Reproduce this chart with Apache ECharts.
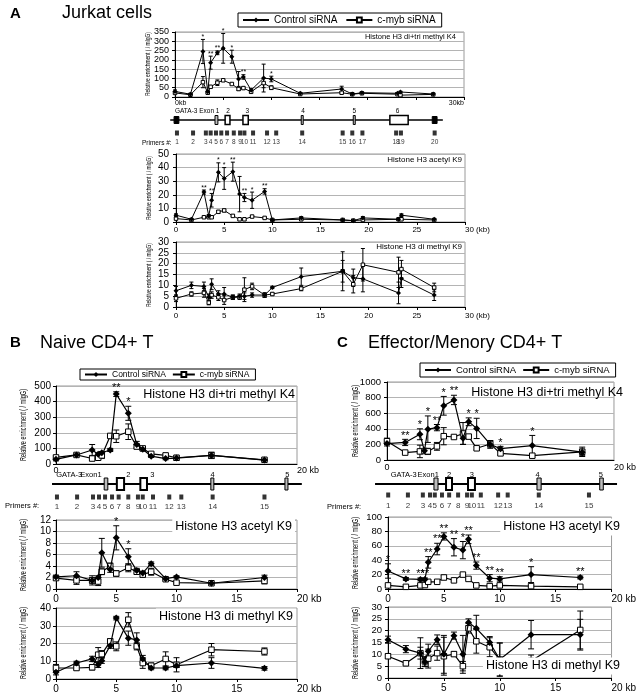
<!DOCTYPE html>
<html><head><meta charset="utf-8">
<script src="https://cdn.jsdelivr.net/npm/echarts@6/dist/echarts.min.js"></script>
<style>html,body{margin:0;padding:0;background:#fff}#c{width:639px;height:694px}</style>
</head><body><div id="c"></div>
<script>
// ---------- DATA ----------
// Panel A : Jurkat cells (kb positions of primers 1..20)
const kbA = [0, 1.6, 2.9, 3.4, 3.7, 4.4, 5.0, 5.9, 6.6, 7.1, 7.9, 9.2, 10.0, 13.0, 17.3, 18.4, 19.4, 23.1, 23.4, 26.8];
const aK4Ctrl = [30, 15, 245, 28, 185, 238, 262, 217, 97, 108, 37, 102, 97, 20, 43, 16, 23, 20, 27, 16];
const aK4CtrlErr = [8, 3, 65, 5, 35, 10, 80, 35, 40, 12, 8, 75, 15, 4, 15, 4, 4, 4, 4, 3];
const aK4Myb = [22, 12, 80, 23, 55, 77, 90, 70, 43, 48, 28, 75, 50, 16, 23, 15, 20, 15, 10, 14];
const aK4MybErr = [5, 3, 30, 5, 5, 15, 5, 5, 8, 5, 5, 25, 10, 3, 5, 3, 3, 5, 3, 3];
const aK4Stars = ['', '', '*', '', '**', '**', '*', '*', '', '**', '', '', '*', '', '', '', '', '', '', ''];
const aAcCtrl = [5, 2, 22, 4.5, 16, 36.5, 32, 37, 20.5, 18, 16, 22.5, 1.5, 3, 1.5, 1, 3, 2, 5, 2];
const aAcCtrlErr = [1, 0.5, 1.5, 1, 5, 7, 8, 7, 13, 3, 6, 2, 0.5, 1, 0.5, 0.5, 1, 0.5, 1, 0.5];
const aAcMyb = [2.5, 1.5, 3.5, 3.5, 3.5, 7.5, 8.5, 4.5, 2, 2, 4, 3, 1.5, 2, 1.5, 1, 1.5, 2, 2, 1.5];
const aAcMybErr = [0.5, 0.3, 0.5, 0.5, 0.5, 1, 1, 0.5, 0.5, 0.5, 0.5, 0.5, 0.3, 0.5, 0.3, 0.3, 0.3, 0.5, 0.3, 0.3];
const aAcStars = ['', '', '**', '', '**', '*', '*', '**', '', '**', '*', '**', '', '', '', '', '', '', '', ''];
const aDmCtrl = [7.5, 10, 9.5, 4.5, 10.5, 6, 6, 4.5, 5, 5, 5.5, 5.5, 9, 14, 16.5, 13.5, 13, 6.5, 13, 5.5];
const aDmCtrlErr = [2, 1.5, 2, 1.5, 2.5, 1.5, 3, 1, 1, 1.5, 1, 1, 0.5, 4, 9, 4, 6, 5, 4, 2.5];
const aDmMyb = [4, 6, 6.5, 2, 5.5, 4.5, 3.2, 4.5, 4.5, 8, 9.5, 5.5, 6, 8.5, 16.5, 10.5, 19.5, 16, 17.5, 9];
const aDmMybErr = [1.5, 1, 2, 1, 1.5, 1.5, 2, 1, 1, 5.5, 1.5, 1, 0.5, 1, 5, 4, 7.5, 7, 4, 2];
const primerKbA = [0.1, 1.77, 3.1, 3.6, 4.15, 4.7, 5.3, 6.0, 6.65, 7.1, 8.0, 9.45, 10.4, 13.1, 17.3, 18.3, 19.35, 22.85, 23.35, 26.85];
const primerNamesA = ['1','2','3','4','5','6','7','8','9','10','11','12','13','14','15','16','17','18','19','20'];
const exonStartA = [-0.2, 4.05, 5.1, 6.95, 13.0, 18.4, 22.2, 26.6];
const exonEndA = [0.3, 4.35, 5.6, 7.5, 13.2, 18.6, 24.1, 27.1];
const exonKindA = ['solid', 'thin', 'big', 'big', 'thin', 'thin', 'big', 'solid'];
const geneSpanA = [-0.6, 27.7];
const exonLabelKbA = [2.2, 5.4, 7.4, 13.2, 18.5, 23.0];
const exonLabelsA = ['GATA-3 Exon 1', '2', '3', '4', '5', '6'];

// Panel B : Naive CD4+ T
const kbB = [0, 1.7, 3.0, 3.5, 3.8, 4.5, 5.0, 6.0, 6.7, 7.2, 7.9, 9.1, 10.0, 12.9, 17.3];
const bK4Ctrl = [30, 58, 90, 62, 72, 90, 448, 325, 125, 95, 50, 35, 38, 55, 25];
const bK4CtrlErr = [10, 5, 35, 8, 8, 10, 15, 45, 20, 10, 8, 8, 10, 20, 5];
const bK4Myb = [42, 58, 35, 40, 55, 180, 178, 207, 112, 100, 65, 55, 40, 55, 27];
const bK4MybErr = [8, 5, 10, 10, 20, 10, 40, 50, 15, 10, 10, 10, 15, 20, 5];
const bK4Stars = ['', '', '', '', '', '', '**', '*', '', '', '', '', '', '', ''];
const bAcCtrl = [2.1, 2.3, 1.5, 2.0, 6.3, 3.4, 8.9, 5.6, 3.2, 2.8, 4.4, 1.8, 2.1, 1.0, 2.0];
const bAcCtrlErr = [0.3, 0.7, 0.5, 0.3, 2.5, 0.5, 2.1, 1.4, 0.4, 0.3, 0.3, 0.2, 0.2, 0.1, 0.4];
const bAcMyb = [1.9, 1.5, 1.5, 1.3, 3.0, 4.0, 2.7, 3.7, 3.0, 2.5, 3.0, 1.7, 1.1, 1.0, 1.4];
const bAcMybErr = [0.3, 0.7, 0.8, 0.7, 0.5, 0.5, 0.5, 0.7, 0.4, 0.4, 0.6, 0.2, 0.2, 0.1, 0.5];
const bAcStars = ['', '', '', '', '', '', '*', '*', '', '', '', '', '', '', ''];
const bDmCtrl = [3.8, 9, 11.3, 8, 10.3, 18.8, 34.3, 23, 22, 11.3, 6.2, 6.2, 7.5, 9, 6];
const bDmCtrlErr = [1.5, 1, 1.5, 1.5, 1.5, 1.5, 1, 4, 4, 2, 1, 1, 1, 3, 1];
const bDmMyb = [6.2, 6.2, 6.6, 13.7, 14, 21.2, 18.4, 33.4, 18.4, 9, 7.5, 11.3, 8, 16.5, 15.5];
const bDmMybErr = [2, 1, 1.5, 4, 2, 1.5, 2.5, 4, 2, 3, 1.5, 4, 4, 3.5, 2];
const primerKbB = [0.08, 1.75, 3.07, 3.57, 4.07, 4.65, 5.2, 6.0, 6.8, 7.2, 8.05, 9.4, 10.4, 13.0, 17.3];
const primerNamesB = ['1','2','3','4','5','6','7','8','9','10','11','12','13','14','15'];
const exonStartB = [4.0, 5.05, 7.0, 12.85, 19.0];
const exonEndB = [4.3, 5.65, 7.55, 13.1, 19.25];
const exonKindB = ['thin', 'big', 'big', 'thin', 'thin'];
const geneSpanB = [-0.33, 20.4];
const exonLabelKbB = [1.1, 2.9, 6.0, 8.0, 13.0, 19.2];
const exonLabelsB = ['GATA-3', 'Exon1', '2', '3', '4', '5'];

// Panel C : Effector/Menory CD4+ T
const kbC = [0, 1.6, 2.9, 3.3, 3.6, 4.4, 5.0, 5.9, 6.7, 7.2, 7.9, 9.1, 10.0, 12.8, 17.2];
const cK4Ctrl = [210, 225, 330, 120, 395, 415, 695, 770, 280, 490, 405, 200, 145, 185, 100];
const cK4CtrlErr = [30, 40, 70, 10, 170, 40, 120, 60, 80, 50, 130, 50, 30, 130, 40];
const cK4Myb = [240, 95, 110, 115, 110, 175, 305, 295, 340, 300, 150, 205, 85, 55, 105];
const cK4MybErr = [40, 10, 80, 20, 40, 50, 110, 20, 140, 20, 20, 40, 20, 20, 60];
const cK4Stars = ['', '**', '*', '', '*', '**', '*', '**', '', '*', '*', '', '*', '*', ''];
const cAcCtrl = [25, 14, 13.3, 13.3, 37, 55.5, 73, 58, 54, 69, 32.5, 15, 14, 20, 16];
const cAcCtrlErr = [10, 2, 2, 2, 8, 8, 5, 12, 12, 6, 5, 5, 3, 11, 2];
const cAcMyb = [5, 3, 5, 5.5, 10, 10, 16, 12, 20, 14, 5, 4, 5, 4, 3];
const cAcMybErr = [1, 1, 1, 1, 1, 1, 3, 1, 2, 1, 1, 1, 1, 1, 1];
const cAcStars = ['*', '**', '**', '**', '**', '**', '**', '**', '*', '**', '**', '**', '**', '*', '**'];
const cDmCtrl = [16.2, 12.2, 10.5, 6.8, 11.3, 16.2, 10, 17.9, 10, 23.5, 21, 15, 7.8, 18.3, 18.3];
const cDmCtrlErr = [1.5, 1.5, 2.5, 2, 3, 2, 8, 1.5, 8, 1.5, 5.5, 2.5, 7, 6, 6.5];
const cDmMyb = [9.2, 6.2, 10.5, 7, 8.2, 10.5, 9.2, 10.1, 5, 21, 15.5, 13, 7.8, 7.2, 20.3];
const cDmMybErr = [1, 0.5, 6.5, 2, 4, 3, 8, 1, 2, 2, 5, 4, 7, 2.5, 8];
const primerKbC = [0.1, 1.75, 3.0, 3.6, 4.0, 4.6, 5.2, 5.95, 6.7, 7.1, 7.85, 9.3, 10.1, 12.7, 16.9];
const primerNamesC = ['1','2','3','4','5','6','7','8','9','10','11','12','13','14','15'];
const exonStartC = [3.93, 4.94, 6.78, 12.55, 17.8];
const exonEndC = [4.27, 5.44, 7.36, 12.9, 18.1];
const exonKindC = ['thin', 'big', 'big', 'thin', 'thin'];
const geneSpanC = [-1.0, 19.25];
const exonLabelKbC = [1.4, 3.45, 5.2, 7.1, 12.6, 17.9];
const exonLabelsC = ['GATA-3', 'Exon1', '2', '3', '4', '5'];

const seriesNames = ['Control siRNA', 'c-myb siRNA'];
const yName = 'Relative enrichment ( / mIgG)';

// ---------- BUILD ----------
const FONT = 'Liberation Sans, Arial, sans-serif';
const chart = echarts.init(document.getElementById('c'), null, {renderer: 'canvas'});

const grids = [], xAxes = [], yAxes = [], series = [];

function plotPanel(box, xmax, ymax, yint, opt) {
  const gi = grids.length;
  grids.push({left: box[0], top: box[1], width: box[2], height: box[3], show: true, borderColor: '#9a9a9a', borderWidth: 1, backgroundColor: 'transparent'});
  xAxes.push({gridIndex: gi, type: 'value', min: 0, max: xmax, interval: 5,
    axisLine: {show: true, onZero: false, lineStyle: {color: '#000', width: 1}},
    axisTick: {show: opt.xTicks !== false, length: 3, lineStyle: {color: '#000'}},
    splitLine: {show: false},
    axisLabel: {show: true, fontSize: opt.xFont, fontFamily: FONT, color: '#000', margin: opt.xMargin,
      formatter: opt.xFmt, alignMinLabel: opt.alignMin || 'center', alignMaxLabel: opt.alignMax || 'left', showMinLabel: true, showMaxLabel: true}
  });
  yAxes.push({gridIndex: gi, type: 'value', min: 0, max: ymax, interval: yint,
    axisLine: {show: true, lineStyle: {color: '#000', width: 1}},
    axisTick: {show: true, length: 3, lineStyle: {color: '#000'}},
    splitLine: {show: true, lineStyle: {color: '#b4b4b4', width: 1}},
    axisLabel: {fontSize: opt.yFont, fontFamily: FONT, color: '#000', margin: opt.yMargin, formatter: v => String(v)}
  });
  return gi;
}

function addData(gi, kb, ctrl, ctrlErr, myb, mybErr, stars, sz, lw, cap, starFont) {
  series.push(errSeries(gi, kb, myb, mybErr, null, cap, starFont));
  series.push(errSeries(gi, kb, ctrl, ctrlErr, stars, cap, starFont));
  series.push({type: 'line', name: seriesNames[1], xAxisIndex: gi, yAxisIndex: gi,
    data: kb.map((k, i) => [k, myb[i]]), symbol: 'rect', symbolSize: sz - 1.5, showSymbol: true,
    lineStyle: {color: '#000', width: lw}, itemStyle: {color: '#fff', borderColor: '#000', borderWidth: 1}, z: 4, silent: true});
  series.push({type: 'line', name: seriesNames[0], xAxisIndex: gi, yAxisIndex: gi,
    data: kb.map((k, i) => [k, ctrl[i]]), symbol: 'diamond', symbolSize: sz, showSymbol: true,
    lineStyle: {color: '#000', width: lw}, itemStyle: {color: '#000'}, z: 5, silent: true});
}

function errSeries(gi, kb, vals, errs, stars, cap, starFont) {
  return {type: 'custom', xAxisIndex: gi, yAxisIndex: gi, silent: true, z: 3,
    data: kb.map((k, i) => [k, vals[i], errs[i]]),
    renderItem: function (params, api) {
      const x = api.value(0), v = api.value(1), e = api.value(2);
      const p = api.coord([x, v]);
      const t = api.coord([x, v + e]);
      const b = api.coord([x, v - e]);
      const st = {stroke: '#000', lineWidth: 1};
      const ch = [];
      if (e > 0) {
        ch.push({type: 'line', shape: {x1: p[0], y1: t[1], x2: p[0], y2: b[1]}, style: st});
        ch.push({type: 'line', shape: {x1: p[0] - cap, y1: t[1], x2: p[0] + cap, y2: t[1]}, style: st});
        ch.push({type: 'line', shape: {x1: p[0] - cap, y1: b[1], x2: p[0] + cap, y2: b[1]}, style: st});
      }
      const s = stars ? stars[params.dataIndex] : '';
      if (s) ch.push({type: 'text', x: p[0], y: t[1] + starFont * 0.15, style: {text: s, fill: '#000', font: starFont + 'px ' + FONT, align: 'center', verticalAlign: 'bottom'}});
      return {type: 'group', children: ch};
    }};
}

function genePanel(box, xmax, span, exS, exE, exK, labKb, labs, primKb, primNames, rows, sty) {
  const gi = grids.length;
  grids.push({left: box[0], top: box[1], width: box[2], height: box[3], show: false});
  xAxes.push({gridIndex: gi, type: 'value', min: 0, max: xmax, show: false});
  yAxes.push({gridIndex: gi, type: 'value', min: 0, max: box[3], inverse: true, show: false});
  series.push({type: 'custom', xAxisIndex: gi, yAxisIndex: gi, silent: true, z: 2,
    data: [[span[0], span[1]]],
    renderItem: function (params, api) {
      const a = api.coord([api.value(0), rows.line]), b = api.coord([api.value(1), rows.line]);
      return {type: 'line', shape: {x1: a[0], y1: a[1], x2: b[0], y2: b[1]}, style: {stroke: '#000', lineWidth: sty.lineW}};
    }});
  series.push({type: 'custom', xAxisIndex: gi, yAxisIndex: gi, silent: true, z: 3,
    data: exS.map((s, i) => [s, exE[i]]),
    renderItem: function (params, api) {
      const kind = exK[params.dataIndex];
      const a = api.coord([api.value(0), rows.line]), b = api.coord([api.value(1), rows.line]);
      const h = kind === 'solid' ? sty.solidH : sty.boxH;
      const w = Math.max(b[0] - a[0], 2);
      const fill = kind === 'solid' ? '#000' : (kind === 'thin' ? '#bdbdbd' : '#fff');
      const lw = kind === 'big' ? sty.bigBorder : 1;
      return {type: 'rect', shape: {x: a[0], y: a[1] - h / 2, width: w, height: h}, style: {fill: fill, stroke: '#000', lineWidth: lw}};
    }});
  series.push({type: 'custom', xAxisIndex: gi, yAxisIndex: gi, silent: true, z: 3,
    data: labKb.map(k => [k]),
    renderItem: function (params, api) {
      const a = api.coord([api.value(0), rows.label]);
      return {type: 'text', x: a[0], y: a[1], style: {text: labs[params.dataIndex], fill: '#000', font: sty.labFont + 'px ' + FONT, align: 'center', verticalAlign: 'middle'}};
    }});
  series.push({type: 'scatter', xAxisIndex: gi, yAxisIndex: gi, silent: true, z: 3,
    data: primKb.map(k => [k, rows.primer]), symbol: 'rect', symbolSize: sty.primSize,
    itemStyle: {color: '#000'},
    label: {show: true, position: 'bottom', distance: sty.numDist, fontSize: sty.numFont, fontFamily: FONT, color: '#000',
      formatter: p => primNames[p.dataIndex]}});
  return gi;
}

// ----- Panel A -----
let g;
g = plotPanel([175, 32, 289, 65], 30, 350, 50, {xFont: 7, xMargin: 3, yFont: 9, yMargin: 6,
  xFmt: v => v === 0 ? '0kb' : (v === 30 ? '30kb' : ''), alignMin: 'left', alignMax: 'right'});
addData(g, kbA, aK4Ctrl, aK4CtrlErr, aK4Myb, aK4MybErr, aK4Stars, 5, 1, 2, 7);
genePanel([176, 100, 289, 50], 30, geneSpanA, exonStartA, exonEndA, exonKindA, exonLabelKbA, exonLabelsA, primerKbA, primerNamesA,
  {label: 11, line: 20, primer: 33}, {lineW: 1.5, boxH: 9, solidH: 7, bigBorder: 1.5, labFont: 6.5, primSize: [4, 5], numDist: 3, numFont: 6.5});
g = plotPanel([176, 154, 289, 68], 30, 50, 10, {xFont: 8, xMargin: 4, yFont: 10, yMargin: 7,
  xFmt: v => v === 30 ? '30 (kb)' : String(v)});
addData(g, kbA, aAcCtrl, aAcCtrlErr, aAcMyb, aAcMybErr, aAcStars, 5, 1, 2, 7);
g = plotPanel([176, 242, 289, 65], 30, 30, 5, {xFont: 8, xMargin: 5, yFont: 10, yMargin: 7,
  xFmt: v => v === 30 ? '30 (kb)' : String(v)});
addData(g, kbA, aDmCtrl, aDmCtrlErr, aDmMyb, aDmMybErr, null, 5, 1, 2, 7);

// ----- Panel B -----
g = plotPanel([56, 386, 241, 78], 20, 500, 100, {xFont: 9, xMargin: 2, yFont: 10, yMargin: 5, xTicks: false,
  xFmt: v => v === 0 ? '0' : (v === 20 ? '20 kb' : '')});
addData(g, kbB, bK4Ctrl, bK4CtrlErr, bK4Myb, bK4MybErr, bK4Stars, 7, 1.2, 3, 11);
genePanel([56, 466, 241, 46], 20, geneSpanB, exonStartB, exonEndB, exonKindB, exonLabelKbB, exonLabelsB, primerKbB, primerNamesB,
  {label: 9, line: 18, primer: 31}, {lineW: 2, boxH: 12, solidH: 8, bigBorder: 2, labFont: 7.5, primSize: [4, 5], numDist: 3, numFont: 8});
g = plotPanel([56, 520, 241, 69], 20, 12, 2, {xFont: 10, xMargin: 5, yFont: 10, yMargin: 5,
  xFmt: v => v === 20 ? '20 kb' : String(v)});
addData(g, kbB, bAcCtrl, bAcCtrlErr, bAcMyb, bAcMybErr, bAcStars, 7, 1.2, 3, 11);
g = plotPanel([56, 608, 241, 71], 20, 40, 10, {xFont: 10, xMargin: 5, yFont: 10, yMargin: 5,
  xFmt: v => v === 20 ? '20 kb' : String(v)});
addData(g, kbB, bDmCtrl, bDmCtrlErr, bDmMyb, bDmMybErr, null, 7, 1.2, 3, 11);

// ----- Panel C -----
g = plotPanel([387, 382, 239, 78], 20, 1000, 200, {xFont: 9, xMargin: 3, yFont: 9.5, yMargin: 6, xTicks: false,
  xFmt: v => v === 0 ? '0' : (v === 20 ? '20 kb' : '')});
addData(g, kbC, cK4Ctrl, cK4CtrlErr, cK4Myb, cK4MybErr, cK4Stars, 7, 1.2, 3, 11);
genePanel([387, 464, 239, 48], 20, geneSpanC, exonStartC, exonEndC, exonKindC, exonLabelKbC, exonLabelsC, primerKbC, primerNamesC,
  {label: 11, line: 20, primer: 31}, {lineW: 2, boxH: 12, solidH: 8, bigBorder: 2, labFont: 7.5, primSize: [4, 5], numDist: 4, numFont: 8});
g = plotPanel([388, 517, 238, 72], 20, 100, 20, {xFont: 10, xMargin: 5, yFont: 9.5, yMargin: 6,
  xFmt: v => v === 20 ? '20 kb' : String(v)});
addData(g, kbC, cAcCtrl, cAcCtrlErr, cAcMyb, cAcMybErr, cAcStars, 7, 1.2, 3, 11);
g = plotPanel([388, 607, 238, 71], 20, 30, 5, {xFont: 10, xMargin: 5, yFont: 9.5, yMargin: 6,
  xFmt: v => v === 20 ? '20 kb' : String(v)});
addData(g, kbC, cDmCtrl, cDmCtrlErr, cDmMyb, cDmMybErr, null, 7, 1.2, 3, 11);

// ----- texts -----
function txt(x, y, s, size, opt) {
  opt = opt || {};
  const st = {text: s, fill: '#000', font: (opt.bold ? 'bold ' : '') + size + 'px ' + FONT, align: opt.align || 'left', verticalAlign: 'middle'};
  if (opt.bg) { st.backgroundColor = '#fff'; st.padding = [2, 3, 2, 3]; }
  return {type: 'text', x: x, y: y, z: 100, style: st};
}
function yTitle(x, y, size, sx) {
  return {type: 'text', x: x, y: y, rotation: Math.PI / 2, scaleX: sx, z: 100,
    style: {text: yName, fill: '#000', font: size + 'px ' + FONT, align: 'center', verticalAlign: 'middle'}};
}
const graphic = [
  txt(10, 14, 'A', 15, {bold: true}), txt(62, 13, 'Jurkat cells', 18),
  txt(10, 343, 'B', 15, {bold: true}), txt(40, 343, 'Naive CD4+ T', 18),
  txt(337, 343, 'C', 15, {bold: true}), txt(368, 343, 'Effector/Menory CD4+ T', 18),
  txt(456, 37, 'Histone H3 di+tri methyl K4', 7.5, {align: 'right'}),
  txt(462, 160, 'Histone H3 acetyl K9', 8, {align: 'right'}),
  txt(462, 247, 'Histone H3 di methyl K9', 8, {align: 'right'}),
  txt(142, 143, 'Primers #:', 6.5),
  txt(295, 395, 'Histone H3 di+tri methyl K4', 12.5, {align: 'right'}),
  txt(295, 527, 'Histone H3 acetyl K9', 12.5, {align: 'right', bg: true}),
  txt(296, 617, 'Histone H3 di methyl K9', 12.5, {align: 'right', bg: true}),
  txt(5, 506, 'Primers #:', 7.5),
  txt(623, 393, 'Histone H3 di+tri methyl K4', 12.5, {align: 'right'}),
  txt(623, 527, 'Histone H3 acetyl K9', 12.5, {align: 'right', bg: true}),
  txt(623, 666, 'Histone H3 di methyl K9', 12.5, {align: 'right', bg: true}),
  txt(327, 507, 'Primers #:', 7.5),
  yTitle(148, 64, 7, 0.7), yTitle(149, 188, 7, 0.7), yTitle(149, 275, 7, 0.7),
  yTitle(23, 425, 9.5, 0.58), yTitle(23, 555, 9.5, 0.58), yTitle(23, 643, 9.5, 0.58),
  yTitle(355, 421, 9.5, 0.58), yTitle(355, 553, 9.5, 0.58), yTitle(355, 643, 9.5, 0.58)
];

const legendBase = {orient: 'horizontal', data: seriesNames, borderColor: '#000', borderWidth: 1, selectedMode: false,
  itemWidth: 26, itemHeight: 6, backgroundColor: '#fff'};
const legends = [
  Object.assign({}, legendBase, {left: 238, top: 13, padding: [2, 6, 2, 4], itemGap: 8, textStyle: {fontSize: 10, fontFamily: FONT, color: '#000'}}),
  Object.assign({}, legendBase, {left: 80, top: 369, padding: [1, 6, 1, 4], itemGap: 6, itemWidth: 22, textStyle: {fontSize: 8.5, fontFamily: FONT, color: '#000'}}),
  Object.assign({}, legendBase, {left: 420, top: 363, padding: [2, 6, 2, 4], itemGap: 6, textStyle: {fontSize: 9.5, fontFamily: FONT, color: '#000'}})
];

chart.setOption({
  animation: false,
  backgroundColor: '#fff',
  textStyle: {fontFamily: FONT},
  grid: grids, xAxis: xAxes, yAxis: yAxes, series: series,
  legend: legends, graphic: graphic
});
</script></body></html>
